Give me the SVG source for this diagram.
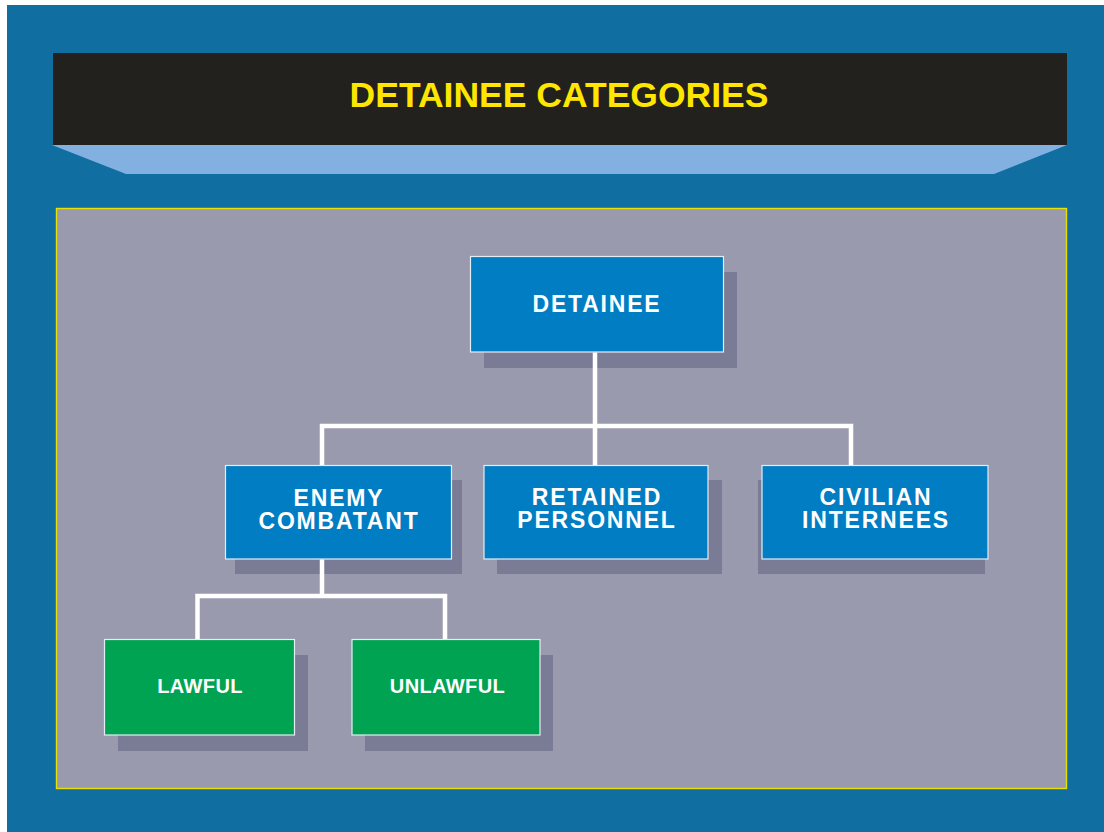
<svg xmlns="http://www.w3.org/2000/svg" width="1104" height="832" viewBox="0 0 1104 832">
  <style>
    .shadow { fill: #7A7C96; }
    .blue { fill: #007DC3; stroke: #E4ECF4; stroke-width: 1.2; }
    .green { fill: #00A352; stroke: #E4ECF4; stroke-width: 1.2; }
    .lbl { font-family: "Liberation Sans", Arial, sans-serif; font-weight: bold; fill: #FFFFFF; text-anchor: middle; }
    .big { font-size: 23px; letter-spacing: 1.8px; }
    .small { font-size: 20px; letter-spacing: 0.4px; }
    .conn { fill: none; stroke: #FFFFFF; stroke-width: 4.5; stroke-linejoin: miter; }
  </style>
  <rect x="0" y="0" width="1104" height="832" fill="#FFFFFF"/>
  <rect x="7" y="5" width="1097" height="827" fill="#116EA1"/>
  <g id="header">
    <polygon points="52,145 1067,145 994,174 126,174" fill="#82B1E1"/>
    <rect x="53" y="53" width="1014" height="92" fill="#23211E"/>
    <text x="559" y="107" font-family="Liberation Sans, Arial, sans-serif" font-weight="bold" font-size="35.5" fill="#FFE600" text-anchor="middle">DETAINEE CATEGORIES</text>
  </g>
  <rect id="panel" x="56.5" y="208.5" width="1010" height="580" fill="#9A9AAE" stroke="#E8E000" stroke-width="1.4"/>

  <g id="node-detainee">
    <rect class="shadow" x="484" y="272" width="253" height="96"/>
    <rect class="blue" x="470.5" y="256.5" width="253" height="95.5"/>
    <text class="lbl big" x="597" y="312">DETAINEE</text>
  </g>
  <g id="node-enemy-combatant">
    <rect class="shadow" x="235" y="480" width="227" height="94"/>
    <rect class="blue" x="225.5" y="465.5" width="226" height="93.5"/>
    <text class="lbl big" x="339" y="505.5">ENEMY</text>
    <text class="lbl big" x="339" y="528.8">COMBATANT</text>
  </g>
  <g id="node-retained-personnel">
    <rect class="shadow" x="497" y="480" width="225" height="94"/>
    <rect class="blue" x="484" y="465.5" width="224" height="93.5"/>
    <text class="lbl big" x="597" y="505">RETAINED</text>
    <text class="lbl big" x="597" y="528.3">PERSONNEL</text>
  </g>
  <g id="node-civilian-internees">
    <rect class="shadow" x="758" y="480" width="227" height="94"/>
    <rect class="blue" x="762" y="465.5" width="226" height="93.5"/>
    <text class="lbl big" x="876" y="505">CIVILIAN</text>
    <text class="lbl big" x="876" y="528.3">INTERNEES</text>
  </g>
  <g id="node-lawful">
    <rect class="shadow" x="118" y="655" width="190" height="96"/>
    <rect class="green" x="104.5" y="639.5" width="190" height="95.5"/>
    <text class="lbl small" x="200" y="693.3">LAWFUL</text>
  </g>
  <g id="node-unlawful">
    <rect class="shadow" x="365" y="655" width="188" height="96"/>
    <rect class="green" x="352" y="639.5" width="188" height="95.5"/>
    <text class="lbl small" x="447.5" y="693">UNLAWFUL</text>
  </g>

  <g id="connectors">
    <path class="conn" d="M595,352.5 V465"/>
    <path class="conn" d="M322,465 V426 H851 V465"/>
    <path class="conn" d="M322,559.5 V596"/>
    <path class="conn" d="M197.5,639 V596 H445 V639"/>
  </g>
</svg>
